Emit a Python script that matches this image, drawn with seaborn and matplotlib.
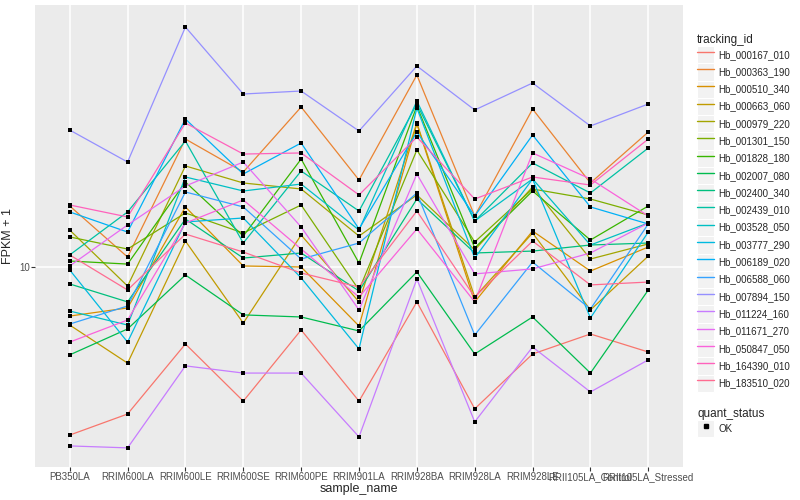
import numpy as np
import pandas as pd
import matplotlib
matplotlib.use("Agg")
import matplotlib.pyplot as plt
import seaborn as sns
from matplotlib.lines import Line2D
from matplotlib.patches import Rectangle
from matplotlib.legend_handler import HandlerLine2D

# ---- data (FPKM + 1) ----
samples = ["PB350LA", "RRIM600LA", "RRIM600LE", "RRIM600SE", "RRIM600PE", "RRIM901LA",
           "RRIM928BA", "RRIM928LA", "RRIM928LE", "RRII105LA_Control", "RRII105LA_Stressed"]

tracking_ids = ["Hb_000167_010", "Hb_000363_190", "Hb_000510_340", "Hb_000663_060",
                "Hb_000979_220", "Hb_001301_150", "Hb_001828_180", "Hb_002007_080",
                "Hb_002400_340", "Hb_002439_010", "Hb_003528_050", "Hb_003777_290",
                "Hb_006189_020", "Hb_006588_060", "Hb_007894_150", "Hb_011224_160",
                "Hb_011671_270", "Hb_050847_050", "Hb_164390_010", "Hb_183510_020"]

hb_000167_010 = [3.80, 4.29, 6.42, 4.62, 6.96, 4.62, 8.18, 4.42, 6.06, 6.80, 6.13]
hb_000363_190 = [14.21, 10.59, 20.89, 17.28, 25.12, 16.50, 30.20, 13.41, 24.83, 16.22, 21.75]
hb_000510_340 = [7.54, 7.90, 14.13, 10.06, 10.00, 7.12, 22.78, 8.18, 12.30, 9.77, 11.22]
hb_000663_060 = [7.16, 5.75, 11.61, 7.24, 12.02, 8.18, 22.91, 8.41, 12.16, 7.81, 10.65]
hb_000979_220 = [12.37, 8.96, 17.89, 16.22, 15.67, 11.95, 15.14, 11.03, 15.85, 10.47, 11.42]
hb_001301_150 = [11.89, 11.09, 13.65, 12.16, 14.29, 8.76, 19.61, 11.55, 15.67, 14.79, 13.49]
hb_001828_180 = [10.35, 10.17, 16.31, 11.95, 18.62, 10.23, 25.26, 11.16, 15.49, 11.68, 14.21]
hb_002007_080 = [6.03, 7.00, 9.55, 7.59, 7.50, 6.92, 9.72, 6.06, 7.50, 5.43, 8.76]
hb_002400_340 = [9.07, 8.18, 13.18, 10.53, 10.84, 8.71, 14.79, 10.84, 10.96, 11.35, 11.48]
hb_002439_010 = [10.72, 13.73, 20.65, 11.48, 17.38, 13.80, 25.56, 13.03, 18.20, 15.31, 19.84]
hb_003528_050 = [7.76, 7.16, 16.79, 15.49, 16.12, 12.37, 26.00, 13.03, 16.60, 11.35, 12.88]
hb_003777_290 = [9.83, 6.49, 12.96, 13.26, 9.39, 6.24, 24.97, 10.53, 16.60, 7.46, 12.23]
hb_006189_020 = [13.73, 12.23, 23.44, 17.08, 20.42, 12.45, 21.75, 13.41, 21.38, 14.13, 12.81]
hb_006588_060 = [7.20, 7.99, 15.40, 14.13, 10.47, 11.48, 15.31, 6.76, 10.29, 7.85, 12.81]
hb_007894_150 = [22.00, 18.30, 39.81, 27.07, 27.54, 21.88, 31.81, 24.69, 28.84, 22.52, 25.56]
hb_011224_160 = [3.57, 3.53, 5.66, 5.43, 5.43, 3.76, 9.33, 4.10, 6.31, 4.87, 5.86]
hb_011671_270 = [10.06, 12.74, 15.94, 18.30, 12.59, 7.81, 17.08, 9.61, 9.89, 10.84, 12.88]
hb_050847_050 = [6.49, 7.37, 12.88, 14.71, 11.09, 8.41, 12.45, 8.18, 19.28, 16.60, 13.41]
hb_164390_010 = [14.29, 13.34, 22.91, 19.16, 19.28, 15.14, 21.13, 14.79, 16.79, 16.03, 20.89]
hb_183510_020 = [10.72, 8.76, 12.09, 10.90, 9.66, 8.91, 13.80, 8.41, 11.61, 9.02, 9.17]

series = [hb_000167_010, hb_000363_190, hb_000510_340, hb_000663_060, hb_000979_220,
          hb_001301_150, hb_001828_180, hb_002007_080, hb_002400_340, hb_002439_010,
          hb_003528_050, hb_003777_290, hb_006189_020, hb_006588_060, hb_007894_150,
          hb_011224_160, hb_011671_270, hb_050847_050, hb_164390_010, hb_183510_020]

# ggplot2 default hue palette for 20 levels
hue_colors = ["#F8766D", "#EA8331", "#D89000", "#C09B00", "#A3A500", "#7CAE00", "#39B600",
              "#00BB4E", "#00BF7D", "#00C1A3", "#00BFC4", "#00BAE0", "#00B0F6", "#35A2FF",
              "#9590FF", "#C77CFF", "#E76BF3", "#FA62DB", "#FF62BC", "#FF6C91"]

rows = []
for tid, vals in zip(tracking_ids, series):
    for s, v in zip(samples, vals):
        rows.append({"tracking_id": tid, "sample_name": s, "fpkm": v, "quant_status": "OK"})
df = pd.DataFrame(rows)
df["x"] = df["sample_name"].map({s: i for i, s in enumerate(samples)})

# ---- plot ----
sns.set_style("white")
plt.rcParams["font.family"] = ["Liberation Sans", "DejaVu Sans"]

fig = plt.figure(figsize=(8, 5), dpi=100)
ax = fig.add_axes([35 / 800, 1 - 467 / 500, (683 - 35) / 800, (467 - 5) / 500])
ax.set_facecolor("#EBEBEB")
for sp in ax.spines.values():
    sp.set_visible(False)

sns.lineplot(data=df, x="x", y="fpkm", hue="tracking_id", hue_order=tracking_ids,
             palette=hue_colors, linewidth=0.9, sort=False, estimator=None,
             legend=False, ax=ax)
sns.scatterplot(data=df, x="x", y="fpkm", color="black", marker="s", s=8,
                linewidth=0, legend=False, ax=ax, zorder=5)

ax.set_yscale("log")
ax.set_ylim(3.162, 45.19)
ax.set_xlim(-0.6, len(samples) - 1 + 0.6)
ax.set_yticks([10])
ax.set_yticklabels(["10"])
ax.yaxis.set_minor_locator(matplotlib.ticker.NullLocator())
ax.set_xticks(range(len(samples)))
ax.set_xticklabels(samples)
ax.grid(True, which="major", color="white", linewidth=1.1)
ax.set_axisbelow(True)

ax.tick_params(axis="both", which="major", length=3, width=0.8, color="#333333",
               labelsize=7, labelcolor="#4D4D4D", pad=0.8, bottom=True, left=True)
ax.set_xlabel("sample_name", fontsize=9, labelpad=0.5)
ax.set_ylabel("FPKM + 1", fontsize=9)
ax.yaxis.set_label_coords(-21 / 648, 0.5)


# legend keys with ggplot-like grey boxes
class KeyHandler(HandlerLine2D):
    def create_artists(self, legend, orig_handle, xdescent, ydescent, width, height,
                       fontsize, trans):
        arts = super().create_artists(legend, orig_handle, xdescent, ydescent, width,
                                      height, fontsize, trans)
        box = Rectangle((-xdescent, -ydescent), width, height, facecolor="#F2F2F2",
                        edgecolor="white", linewidth=0.8, transform=trans)
        return [box] + arts


handles = [Line2D([], [], color=c, linewidth=1.0) for c in hue_colors]
leg1 = fig.legend(handles, tracking_ids, title="tracking_id", loc="upper left",
                  bbox_to_anchor=(697 / 800, 1 - 34 / 500), frameon=False, fontsize=7,
                  title_fontsize=8.5, handlelength=1.78, handleheight=2.36,
                  labelspacing=0.0, handletextpad=0.4, borderaxespad=0, borderpad=0,
                  handler_map={Line2D: KeyHandler()})
leg1._legend_box.align = "left"

ok_handle = Line2D([], [], color="black", marker="s", markersize=2.6, linestyle="none")
leg2 = fig.legend([ok_handle], ["OK"], title="quant_status", loc="upper left",
                  bbox_to_anchor=(697 / 800, 1 - 408 / 500), frameon=False, fontsize=7,
                  title_fontsize=8.5, handlelength=1.78, handleheight=2.36,
                  labelspacing=0.0, handletextpad=0.4, borderaxespad=0, borderpad=0,
                  handler_map={Line2D: KeyHandler()})
leg2._legend_box.align = "left"

fig.savefig("out.png", dpi=100)
